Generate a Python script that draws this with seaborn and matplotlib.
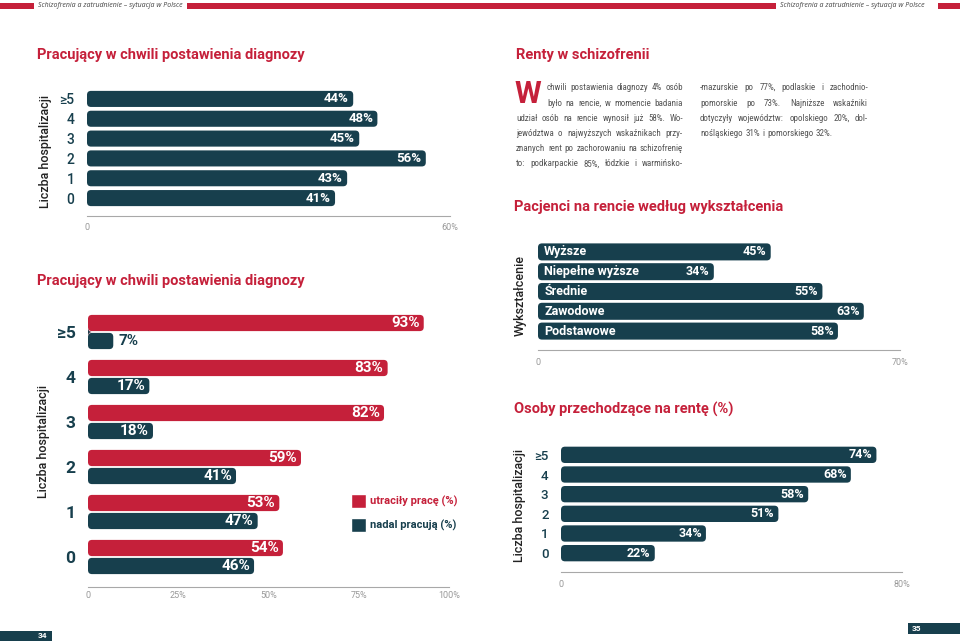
import numpy as np
import pandas as pd
import matplotlib.pyplot as plt
import seaborn as sns
from matplotlib import font_manager
from matplotlib.patches import FancyBboxPatch, Rectangle

RED = "#C5203A"
TEAL = "#173F4D"
GREY = "#A8A8A8"
TXT = "#555555"
W, H = 960, 641

# Data
hosp = ["≥5", "4", "3", "2", "1", "0"]
working_at_diagnosis = [44, 48, 45, 56, 43, 41]
lost_job = [93, 83, 82, 59, 53, 54]
still_working = [7, 17, 18, 41, 47, 46]
status = ["utraciły pracę (%)", "nadal pracują (%)"]
education = ["Wyższe", "Niepełne wyższe", "Średnie", "Zawodowe", "Podstawowe"]
pension_by_edu = [45, 34, 55, 63, 58]
pension_by_hosp = [74, 68, 58, 51, 34, 22]

sns.set_theme(style="white")
plt.rcParams["font.family"] = ["Roboto", "DejaVu Sans"]

# narrow font for the body text if one is around
installed = {f.name for f in font_manager.fontManager.ttflist}
body_family = next(f for f in ["Roboto Condensed", "Liberation Sans Narrow",
                               "Open Sans Condensed", "Lato", "DejaVu Sans"] if f in installed)

fig = plt.figure(figsize=(W / 100, H / 100), dpi=100)
renderer = fig.canvas.get_renderer()


def px_axes(l, t, r, b):
    return fig.add_axes([l / W, 1 - b / H, (r - l) / W, (b - t) / H])


def ftext(x, y, s, **kw):
    return fig.text(x / W, 1 - y / H, s, **kw)


def frect(x0, y0, x1, y1, color):
    fig.add_artist(Rectangle((x0 / W, 1 - y1 / H), (x1 - x0) / W, (y1 - y0) / H,
                             transform=fig.transFigure, color=color, lw=0))


def text_width(s, size, **kw):
    t = fig.text(0, 0, s, fontsize=size, **kw)
    w = t.get_window_extent(renderer).width
    t.remove()
    return w


def style_ax(ax, xmax, ticks, ticklabels, has, offset_px, pad):
    ax.set_xlim(0, xmax)
    ax.set_xticks(ticks)
    ax.set_xticklabels(ticklabels)
    for lab, ha in zip(ax.get_xticklabels(), has):
        lab.set_ha(ha)
    ax.set_xlabel("")
    ax.set_ylabel("")
    sns.despine(ax=ax, left=True, offset={"bottom": offset_px * 0.72})
    ax.spines["bottom"].set_color(GREY)
    ax.spines["bottom"].set_linewidth(0.8)
    ax.tick_params(axis="x", direction="in", length=3, width=0.8, color=GREY,
                   labelcolor="#999999", labelsize=6.5, pad=pad)
    ax.tick_params(axis="y", length=0)


def round_bars(ax, wpx, hpx, r=4):
    x0, x1 = ax.get_xlim()
    y0, y1 = ax.get_ylim()
    xu = abs(x1 - x0) / wpx
    yu = abs(y1 - y0) / hpx
    for p in list(ax.patches):
        fb = FancyBboxPatch((p.get_x(), p.get_y()), p.get_width(), p.get_height(),
                            boxstyle=f"round,pad=0,rounding_size={r * xu}",
                            mutation_aspect=yu / xu, fc=p.get_facecolor(), ec="none")
        ax.add_patch(fb)
        p.remove()


def value_labels(ax, bars, values, wpx, size):
    xu = ax.get_xlim()[1] / wpx
    for p, v in zip(bars, values):
        yc = p.get_y() + p.get_height() / 2
        x = p.get_x() + p.get_width()
        if v / xu < 38:
            ax.annotate(f"{v}%", (x, yc), xytext=(3.5, 0), textcoords="offset points",
                        ha="left", va="center", color=TEAL, fontsize=size, fontweight="bold")
        else:
            ax.annotate(f"{v}%", (x, yc), xytext=(-3, 0), textcoords="offset points",
                        ha="right", va="center", color="white", fontsize=size, fontweight="bold")


def ytick_style(ax, size, weight, pad):
    ax.tick_params(axis="y", labelsize=size, labelcolor=TEAL, pad=pad)
    for lab in ax.get_yticklabels():
        lab.set_fontweight(weight)


# ---- page header / footer
header = "Schizofrenia a zatrudnienie – sytuacja w Polsce"
head_kw = dict(style="italic", family="Open Sans")
head_size = 6 * 145 / text_width(header, 6, **head_kw)
frect(0, 3, 34, 8.5, RED)
frect(187, 3, 776, 8.5, RED)
frect(938, 3, 960, 8.5, RED)
ftext(38, 5.5, header, fontsize=head_size, color="#444444", va="center", **head_kw)
ftext(780, 5.5, header, fontsize=head_size, color="#444444", va="center", **head_kw)
frect(0, 631, 52, 641, TEAL)
frect(908, 623, 960, 634, TEAL)
ftext(47, 636, "34", fontsize=6, color="white", fontweight="bold", ha="right", va="center")
ftext(912, 628.5, "35", fontsize=6, color="white", fontweight="bold", ha="left", va="center")

# ---- titles
title_kw = dict(color=RED, fontweight="bold", fontsize=10.5, va="center")
ftext(37, 55, "Pracujący w chwili postawienia diagnozy", **title_kw)
ftext(37, 281, "Pracujący w chwili postawienia diagnozy", **title_kw)
ftext(516, 55, "Renty w schizofrenii", **title_kw)
ftext(514, 207, "Pacjenci na rencie według wykształcenia", **title_kw)
ftext(514, 409, "Osoby przechodzące na rentę (%)", **title_kw)

ylab_kw = dict(rotation=90, va="center", ha="center", fontsize=9, color="#222222", fontweight="medium")
ftext(45, 151, "Liczba hospitalizacji", **ylab_kw)
ftext(43, 441, "Liczba hospitalizacji", **ylab_kw)
ftext(520, 296, "Wykształcenie", **ylab_kw)
ftext(520, 505, "Liczba hospitalizacji", **ylab_kw)

# ---- chart 1: working at diagnosis
df1 = pd.DataFrame({"hosp": hosp, "value": working_at_diagnosis})
ax1 = px_axes(87, 89, 450, 208)
sns.barplot(data=df1, x="value", y="hosp", color=TEAL, saturation=1, width=0.81, ax=ax1)
style_ax(ax1, 60, np.linspace(0, 60, 7), ["0", "", "", "", "", "", "60%"],
         ["left"] + ["center"] * 5 + ["right"], 8, 5)
ytick_style(ax1, 10, "medium", 9)
value_labels(ax1, ax1.containers[0], working_at_diagnosis, 363, 9.5)
round_bars(ax1, 363, 119)

# ---- chart 2: lost job vs still working
df2 = pd.DataFrame({
    "hosp": hosp * 2,
    "value": lost_job + still_working,
    "status": [status[0]] * len(hosp) + [status[1]] * len(hosp),
})
ax2 = px_axes(88, 309.5, 449, 579.5)
sns.barplot(data=df2, x="value", y="hosp", hue="status", palette=[RED, TEAL],
            saturation=1, width=0.8, gap=0.1, ax=ax2)
style_ax(ax2, 100, [0, 25, 50, 75, 100], ["0", "25%", "50%", "75%", "100%"],
         ["left", "center", "center", "center", "right"], 7.5, 3)
ytick_style(ax2, 12.5, "bold", 9)
value_labels(ax2, ax2.containers[0], lost_job, 361, 11)
value_labels(ax2, ax2.containers[1], still_working, 361, 11)
sns.move_legend(ax2, "upper left", bbox_to_anchor=(0.7, 0.355), title=None, frameon=False,
                fontsize=8, handlelength=1.4, handleheight=1.6, labelspacing=0.9,
                handletextpad=0.3)
for t, c in zip(ax2.get_legend().get_texts(), [RED, TEAL]):
    t.set_color(c)
    t.set_fontweight("bold")
round_bars(ax2, 361, 270)

# ---- chart 3: pension by education
df3 = pd.DataFrame({"edu": education, "value": pension_by_edu})
ax3 = px_axes(538, 242, 900, 341)
sns.barplot(data=df3, x="value", y="edu", color=TEAL, saturation=1, width=0.86, ax=ax3)
style_ax(ax3, 70, np.linspace(0, 70, 7), ["0", "", "", "", "", "", "70%"],
         ["left"] + ["center"] * 5 + ["left"], 9, 6)
ax3.set_yticklabels([])
value_labels(ax3, ax3.containers[0], pension_by_edu, 362, 9)
for p, name in zip(ax3.containers[0], education):
    ax3.annotate(name, (0, p.get_y() + p.get_height() / 2), xytext=(4.5, 0),
                 textcoords="offset points", ha="left", va="center",
                 color="white", fontsize=9, fontweight="bold")
round_bars(ax3, 362, 99)

# ---- chart 4: pension by hospitalisations
df4 = pd.DataFrame({"hosp": hosp, "value": pension_by_hosp})
ax4 = px_axes(561, 445, 902, 563)
sns.barplot(data=df4, x="value", y="hosp", color=TEAL, saturation=1, width=0.83, ax=ax4)
style_ax(ax4, 80, np.linspace(0, 80, 7), ["0", "", "", "", "", "", "80%"],
         ["left"] + ["center"] * 5 + ["right"], 9, 6)
ytick_style(ax4, 9.5, "medium", 9)
value_labels(ax4, ax4.containers[0], pension_by_hosp, 341, 9)
round_bars(ax4, 341, 118)

# ---- body text (justified by hand)
para_left = [
    "chwili postawienia diagnozy 4% osób",
    "było na rencie, w momencie badania",
    "udział osób na rencie wynosił już 58%. Wo-",
    "jewództwa o najwyższych wskaźnikach przy-",
    "znanych rent po zachorowaniu na schizofrenię",
    "to: podkarpackie 85%, łódzkie i warmińsko-",
]
para_right = [
    "-mazurskie po 77%, podlaskie i zachodnio-",
    "pomorskie po 73%. Najniższe wskaźniki",
    "dotyczyły województw: opolskiego 20%, dol-",
    "nośląskiego 31% i pomorskiego 32%.",
]
line_y = [90, 105.5, 121, 136, 151, 166.5]
left_x0 = [547, 547, 516, 516, 516, 516]
body_kw = dict(family=body_family, color=TXT)

# biggest size at which every line keeps a word gap of at least 2 px
body_size = 8.0
while body_size > 4:
    ok = True
    for x0, x1, line in [(a, 683, l) for a, l in zip(left_x0, para_left)] + \
                        [(700, 868, l) for l in para_right]:
        words = line.split(" ")
        used = sum(text_width(w, body_size, **body_kw) for w in words)
        if (x1 - x0 - used) / (len(words) - 1) < 2.2:
            ok = False
            break
    if ok:
        break
    body_size -= 0.1


def justified(x0, x1, y, line, last=False):
    words = line.split(" ")
    arts = [ftext(x0, y, w, fontsize=body_size, va="baseline", **body_kw) for w in words]
    widths = [a.get_window_extent(renderer).width for a in arts]
    gap = 2.6 if last else (x1 - x0 - sum(widths)) / (len(words) - 1)
    x = x0
    for a, w in zip(arts, widths):
        a.set_x(x / W)
        x += w + gap


ftext(514, 103, "W", fontsize=22, color=RED, fontweight="bold", va="baseline")
for i, line in enumerate(para_left):
    justified(left_x0[i], 683, line_y[i], line)
for i, line in enumerate(para_right):
    justified(700, 868, line_y[i], line, last=(i == len(para_right) - 1))

fig.savefig("out.png", dpi=100)
